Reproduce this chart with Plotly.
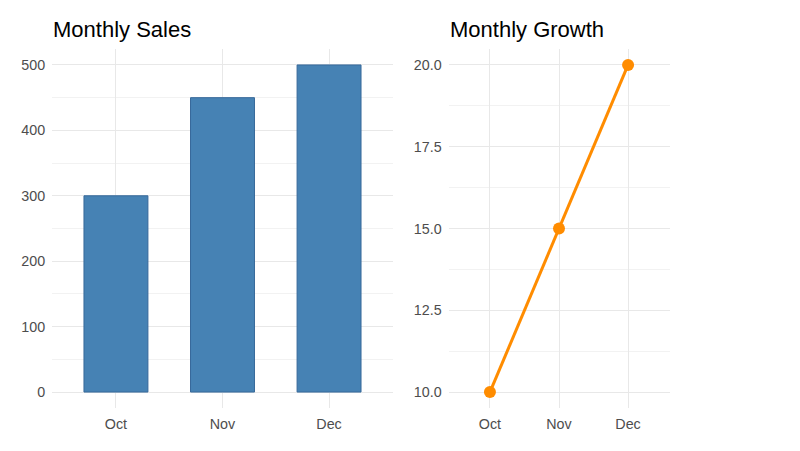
import plotly.graph_objects as go

months = ["Oct", "Nov", "Dec"]
sales = [300, 450, 500]
growth = [10, 15, 20]
sales_ticks = [0, 100, 200, 300, 400, 500]
growth_ticks = [10.0, 12.5, 15.0, 17.5, 20.0]

fig = go.Figure()
fig.add_trace(go.Bar(x=months, y=sales, width=0.6,
                     marker=dict(color="#4682B4", line=dict(color="#36689A", width=1)),
                     xaxis="x", yaxis="y", showlegend=False))
fig.add_trace(go.Scatter(x=months, y=growth, mode="lines+markers",
                         line=dict(color="#FF8C00", width=3),
                         marker=dict(color="#FF8C00", size=12),
                         xaxis="x2", yaxis="y2", showlegend=False))

tickfont = dict(family="Liberation Sans, Arial", size=14.3, color="#4D4D4D")
grid = "#E8E8E8"
common_x = dict(type="category", range=[-0.6, 2.6], showgrid=True, gridcolor=grid, gridwidth=1.1,
                zeroline=False, showline=False, tickfont=tickfont, ticks="outside", ticklen=2,
                tickcolor="rgba(0,0,0,0)", fixedrange=True)
common_y = dict(showgrid=True, gridcolor=grid, gridwidth=1.1, zeroline=False, showline=False,
                tickfont=tickfont, ticks="outside", ticklen=3, tickcolor="rgba(0,0,0,0)",
                minor=dict(showgrid=True, gridcolor="#F2F2F2", gridwidth=0.8))

fig.update_layout(
    width=800, height=451,
    margin=dict(l=0, r=0, t=0, b=0),
    paper_bgcolor="white", plot_bgcolor="white",
    xaxis=dict(domain=[52/800, 393/800], anchor="y", **common_x),
    yaxis=dict(domain=[42.6/451, 402.4/451], anchor="x", range=[-25, 525],
               tickvals=sales_ticks, ticktext=[str(v) for v in sales_ticks], **common_y),
    xaxis2=dict(domain=[448.5/800, 669.5/800], anchor="y2", **common_x),
    yaxis2=dict(domain=[42.6/451, 402.4/451], anchor="x2", range=[9.5, 20.5],
                tickvals=growth_ticks, ticktext=[f"{v:.1f}" for v in growth_ticks], **common_y),
    annotations=[
        dict(text="Monthly Sales", x=51/800, y=1 - 29/451, xref="paper", yref="paper",
             xanchor="left", yanchor="middle", showarrow=False,
             font=dict(family="Liberation Sans, Arial", size=22, color="black")),
        dict(text="Monthly Growth", x=447.5/800, y=1 - 29/451, xref="paper", yref="paper",
             xanchor="left", yanchor="middle", showarrow=False,
             font=dict(family="Liberation Sans, Arial", size=22, color="black")),
    ],
)
fig.layout.yaxis.minor.tickvals = [50, 150, 250, 350, 450]
fig.layout.yaxis2.minor.tickvals = [11.25, 13.75, 16.25, 18.75]

fig.write_html("out.html", config={"displayModeBar": False},
               post_script="document.body.style.margin='0';")
